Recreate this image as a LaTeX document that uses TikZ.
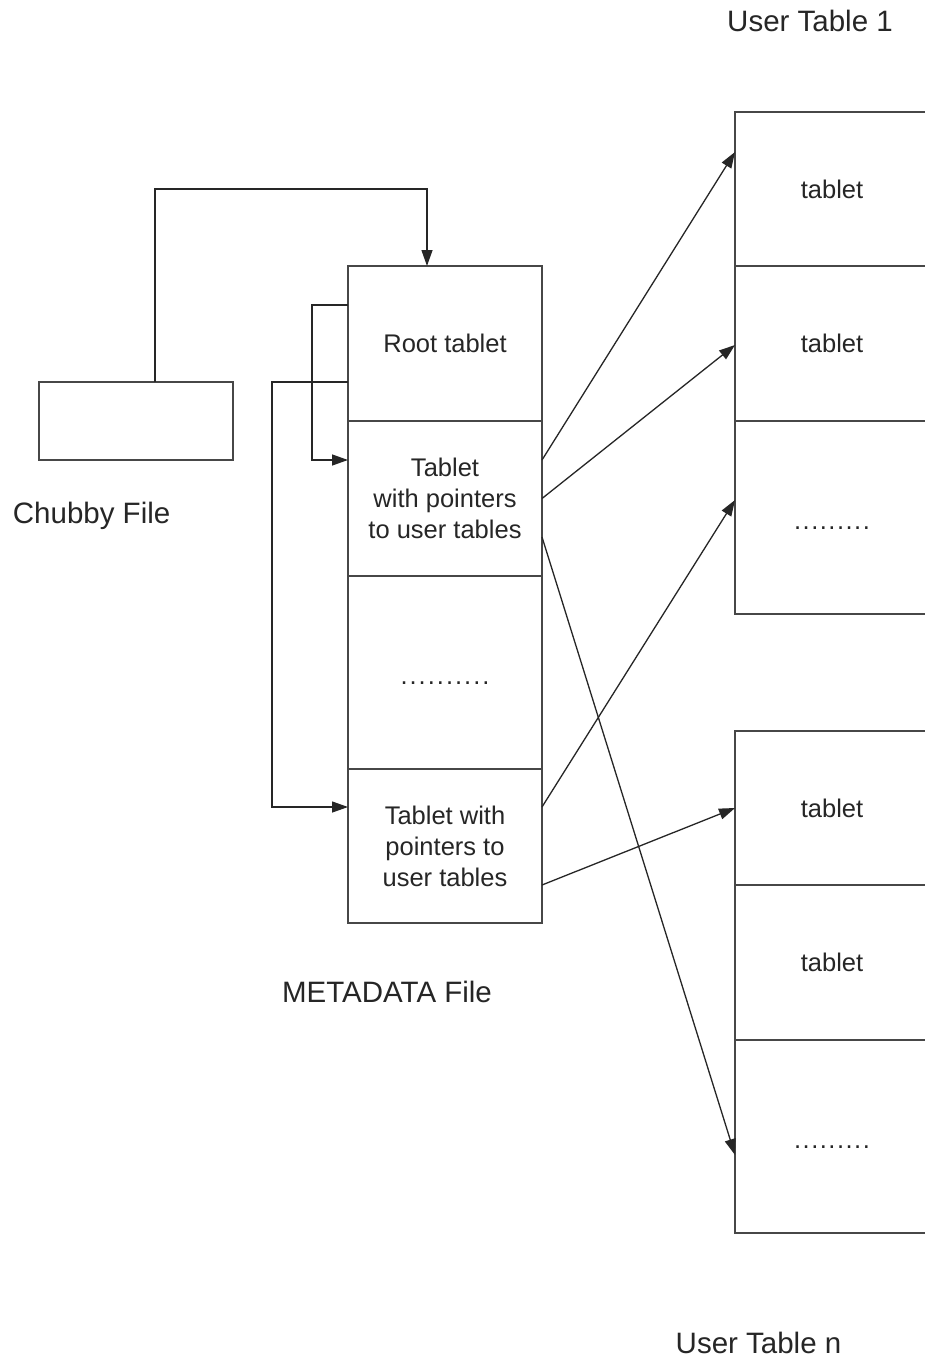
\documentclass[tikz,border=0pt]{standalone}
\usepackage{fontspec}
\setmainfont{Liberation Sans}
\usetikzlibrary{arrows.meta,calc}
\begin{document}
\begin{tikzpicture}[x=1pt,y=-1pt,
  cell/.style={draw=black!72, line width=1.8pt, minimum width=194pt, inner sep=0pt, outer sep=0pt, align=center, font=\fontsize{25.5}{31}\selectfont, text=black!85},
  dotcell/.style={cell, text height=23pt, text depth=0pt},
  lbl/.style={inner sep=0pt, font=\fontsize{29.5}{35}\selectfont, text=black!85},
  conn/.style={draw=black!85, line width=1.3pt},
  arr/.style={conn, -{Triangle[length=16pt,width=11pt]}}]
\clip (0,0) rectangle (925,1359);
\fill[white] (0,0) rectangle (925,1359);
% Chubby file
\node[cell, minimum height=78pt] (chubby) at (136,421) {};
% METADATA file
\node[cell, minimum height=155pt] (m1) at (445,343.5) {Root tablet};
\node[cell, minimum height=155pt] (m2) at (445,498.5) {Tablet\\with pointers\\to user tables};
\node[dotcell, minimum height=193pt] (m3) at (445,672.5) {.\kern2pt.\kern2pt.\kern2pt.\kern2pt.\kern2pt.\kern2pt.\kern2pt.\kern2pt.\kern2pt.};
\node[cell, minimum height=154pt] (m4) at (445,846) {Tablet with\\pointers to\\user tables};
% User table 1
\node[cell, minimum height=154pt] (a1) at (832,189) {tablet};
\node[cell, minimum height=155pt] (a2) at (832,343.5) {tablet};
\node[dotcell, minimum height=193pt] (a3) at (832,517.5) {.\kern1.5pt.\kern1.5pt.\kern1.5pt.\kern1.5pt.\kern1.5pt.\kern1.5pt.\kern1.5pt.\kern1.5pt.};
% User table n
\node[cell, minimum height=154pt] (b1) at (832,808) {tablet};
\node[cell, minimum height=155pt] (b2) at (832,962.5) {tablet};
\node[dotcell, minimum height=193pt] (b3) at (832,1136.5) {.\kern1.5pt.\kern1.5pt.\kern1.5pt.\kern1.5pt.\kern1.5pt.\kern1.5pt.\kern1.5pt.\kern1.5pt.};
% labels
\node[lbl, anchor=base west] (lchubby) at (12.7,523.3) {Chubby File};
\node[lbl, anchor=base] (lmeta) at (387,1002.5) {METADATA File};
\node[lbl, anchor=base] (lu1) at (810,31.7) {User Table 1};
\node[lbl, anchor=base] (lun) at (758.5,1353) {User Table n};
% connectors
\coordinate (ctop) at (427,189);
\draw[arr] ($(chubby.north west)+(116,0)$) |- (ctop) -- ($(m1.north west)+(79,0)$);
\draw[arr] ($(m1.north west)+(0,39)$) -- ++(-36,0) |- ($(m2.north west)+(0,39)$);
\draw[arr] ($(m1.north west)+(0,116)$) -- ++(-76,0) |- ($(m4.north west)+(0,38)$);
\draw[arr] ($(m2.north east)+(0,39)$) -- ($(a1.north west)+(0,40)$);
\draw[arr] (m2.east) -- ($(a2.north west)+(0,79)$);
\draw[arr] ($(m2.north east)+(0,116)$) -- ($(b3.north west)+(0,115)$);
\draw[arr] ($(m4.north east)+(0,38)$) -- ($(a3.north west)+(0,79)$);
\draw[arr] ($(m4.north east)+(0,116)$) -- ($(b1.north west)+(0,77)$);
\end{tikzpicture}
\end{document}
